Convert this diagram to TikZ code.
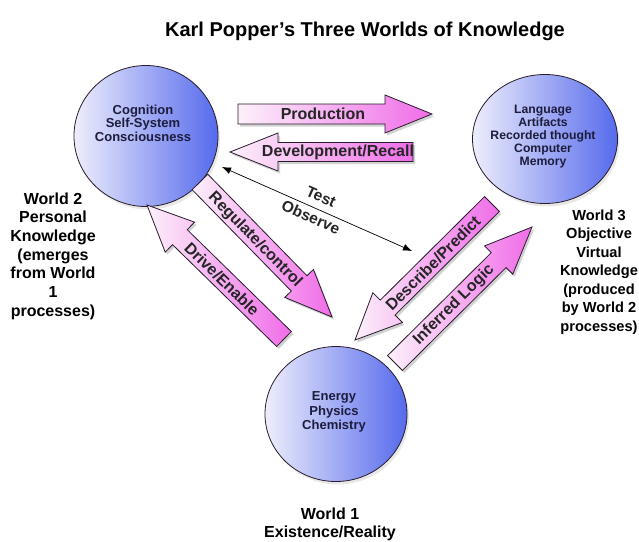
\documentclass[tikz,border=0pt]{standalone}
\usepackage{fontspec}
\setmainfont{Liberation Sans}
\usetikzlibrary{calc,shapes.geometric,shadows,arrows.meta}
\definecolor{circL}{RGB}{238,238,252}
\definecolor{circR}{RGB}{86,106,236}
\definecolor{arrL}{RGB}{252,240,250}
\definecolor{arrR}{RGB}{240,108,232}
\definecolor{edge}{RGB}{40,28,44}
\definecolor{navy}{RGB}{28,28,60}
\newcommand\fs[2]{\fontsize{#1}{#2}\selectfont}
% block arrow: #1 tail, #2 tip, #3 body half width, #4 head half width, #5 head length, #6 prefix
\newcommand\blockarrow[6]{%
  \coordinate (#6-b) at ($(#2)!#5pt!(#1)$);
  \path[arrowbox]
    ($(#1)!#3pt!90:(#2)$) -- ($(#6-b)!#3pt!90:(#2)$) -- ($(#6-b)!#4pt!90:(#2)$)
    -- (#2) -- ($(#6-b)!#4pt!-90:(#2)$) -- ($(#6-b)!#3pt!-90:(#2)$)
    -- ($(#1)!#3pt!-90:(#2)$) -- cycle;}
\begin{document}
\begin{tikzpicture}[x=1pt,y=-1pt,
  world/.style={ellipse, draw=edge, line width=0.8pt, left color=circL, right color=circR,
    drop shadow={opacity=0.18, shadow xshift=2pt, shadow yshift=-3pt}},
  arrowbox/.style={draw=edge, line width=0.8pt, left color=arrL, right color=arrR,
    drop shadow={opacity=0.35, shadow xshift=2pt, shadow yshift=-2.5pt}},
  intext/.style={font=\bfseries\fs{13}{13.5}, text=navy, align=center},
  arrlabel/.style={font=\bfseries\fs{16}{18}, text=black!85},
  side/.style={font=\bfseries\fs{16}{18.7}, align=center}]
\useasboundingbox (0,0) rectangle (639,541);
\fill[white] (0,0) rectangle (639,541);

% title
\node[font=\bfseries\fs{20}{23}] (title) at (365,31) {Karl Popper's Three Worlds of Knowledge};

% worlds
\node[world, minimum width=144pt, minimum height=141pt] (w2) at (146,136) {};
\node[world, minimum width=145pt, minimum height=129pt] (w3) at (545,139) {};
\node[world, minimum width=142pt, minimum height=135pt] (w1) at (336,414) {};
\node[intext] (w2t) at (143,123) {Cognition\\Self-System\\Consciousness};
\node[intext, font=\bfseries\fs{12.2}{13}] (w3t) at (543,137) {Language\\Artifacts\\Recorded thought\\Computer\\Memory};
\node[intext, font=\bfseries\fs{13}{14.5}] (w1t) at (334,412) {Energy\\Physics\\Chemistry};

% side labels
\node[side] (l2) at (53,256) {World 2\\Personal\\Knowledge\\(emerges\\from World\\1\\processes)};
\node[side, font=\bfseries\fs{14.6}{18.5}] (l3) at (599,272) {World 3\\Objective\\Virtual\\Knowledge\\(produced\\by World 2\\processes)};
\node[side, font=\bfseries\fs{16}{18}] (l1) at (330,524) {World 1\\Existence/Reality};

% arrow end points
\coordinate (prodT) at (238,114);  \coordinate (prodH) at (432,114);
\coordinate (devT)  at (413,152);  \coordinate (devH)  at (230,152);
\coordinate (regT)  at (200,182);  \coordinate (regH)  at (332,317);
\coordinate (drvT)  at (284,339);  \coordinate (drvH)  at (147,205);
\coordinate (desT)  at (492,204);  \coordinate (desH)  at (355,340);
\coordinate (infT)  at (395,363);  \coordinate (infH)  at (532,227);

\blockarrow{prodT}{prodH}{10}{19}{47}{prod}
\blockarrow{devT}{devH}{9.5}{19}{48}{dev}
\blockarrow{regT}{regH}{11}{20}{47}{reg}
\blockarrow{drvT}{drvH}{10.5}{21}{46}{drv}
\blockarrow{desT}{desH}{10.5}{21}{46}{des}
\blockarrow{infT}{infH}{10.5}{20}{47}{inf}

\node[arrlabel] (prodL) at (323,114) {Production};
\node[arrlabel] (devL) at (338,152) {Development/Recall};
\node[arrlabel, rotate=-45.6] (regL) at (255,240) {Regulate/control};
\node[arrlabel, rotate=-44.4] (drvL) at (222,279) {Drive/Enable};
\node[arrlabel, rotate=44.8] (desL) at (433,263) {Describe/Predict};
\node[arrlabel, rotate=44.8] (infL) at (454,305) {Inferred Logic};

% test / observe
\coordinate (toA) at (222,167);
\coordinate (toB) at (412,251);
\draw[line width=0.7pt, {Latex[length=9pt,width=7pt]}-{Latex[length=9pt,width=7pt]}] (toA) -- (toB);
\node[arrlabel, font=\bfseries\fs{15.5}{18}, rotate=-24] (test) at (321,197) {Test};
\node[arrlabel, font=\bfseries\fs{15.5}{18}, rotate=-24] (obs) at (311,217) {Observe};
\end{tikzpicture}
\end{document}
